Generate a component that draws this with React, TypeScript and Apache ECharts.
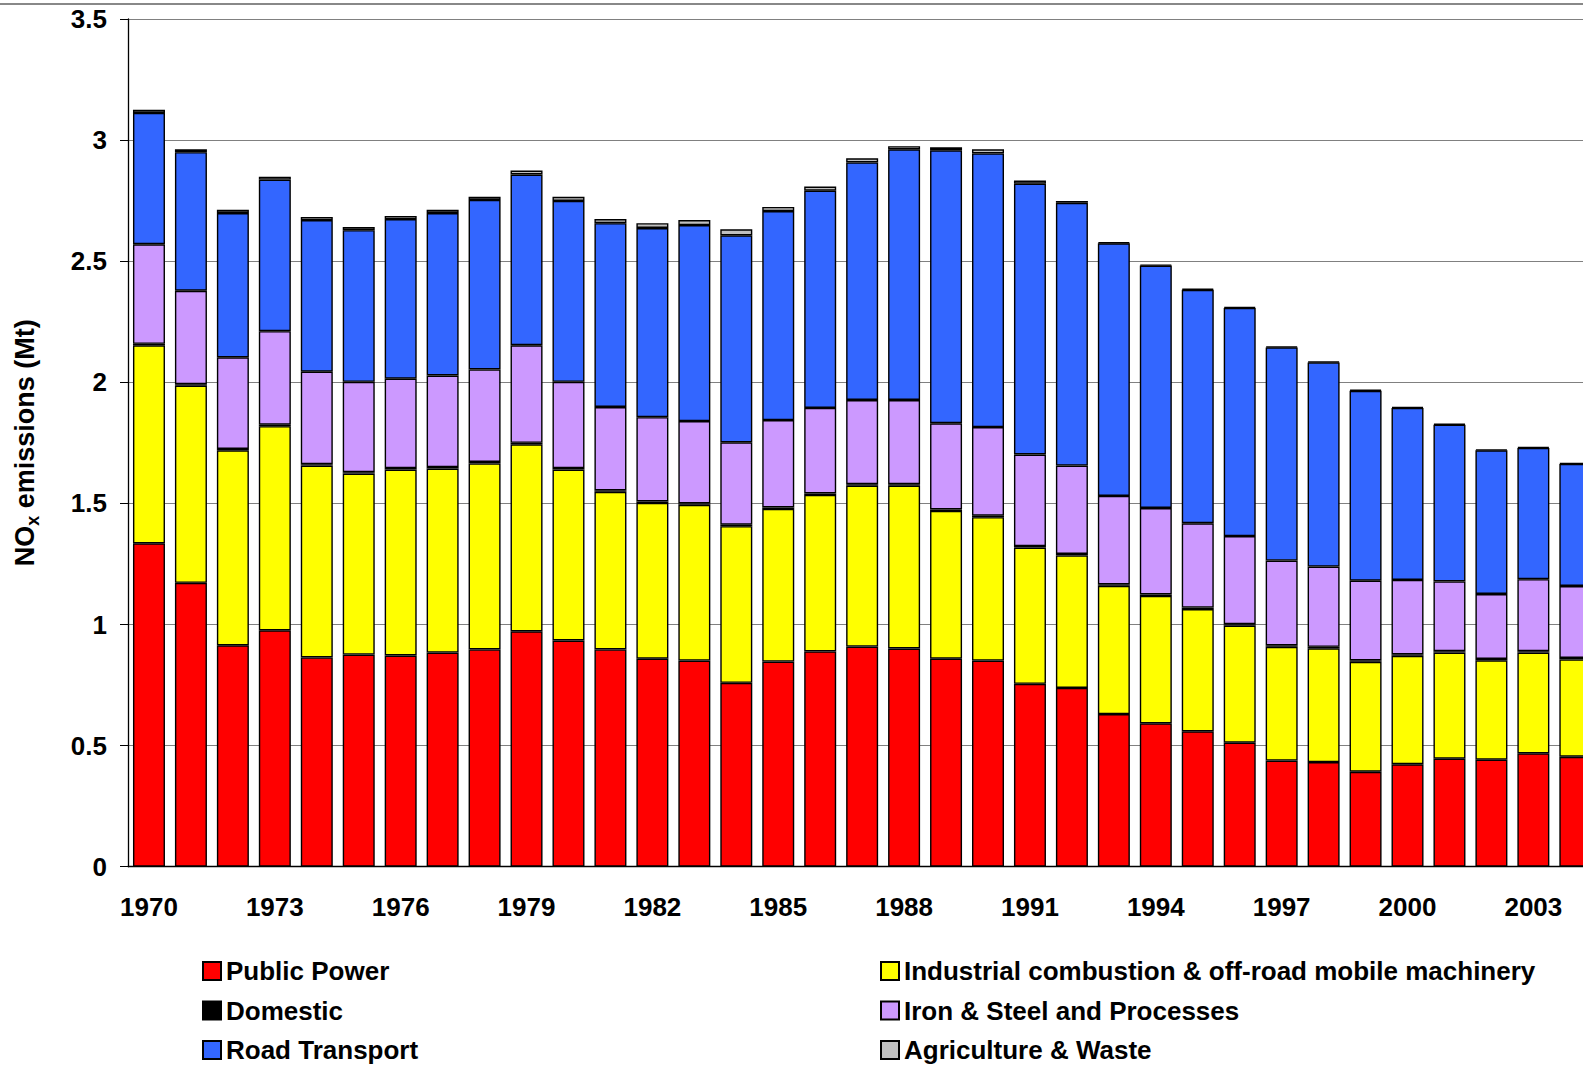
import React, { useEffect, useRef } from "react";
import * as echarts from "echarts";

const years = Array.from({ length: 35 }, (_, i) => String(1970 + i));

const publicPower = [1.335, 1.172, 0.914, 0.976, 0.864, 0.876, 0.872, 0.884, 0.897, 0.972, 0.934, 0.897, 0.859, 0.851, 0.759, 0.847, 0.889, 0.909, 0.901, 0.859, 0.851, 0.755, 0.738, 0.63, 0.592, 0.559, 0.512, 0.438, 0.432, 0.392, 0.423, 0.446, 0.442, 0.468, 0.454];
const industrial = [0.818, 0.814, 0.805, 0.843, 0.792, 0.747, 0.768, 0.76, 0.768, 0.772, 0.706, 0.651, 0.643, 0.643, 0.647, 0.63, 0.646, 0.664, 0.672, 0.61, 0.592, 0.563, 0.547, 0.53, 0.526, 0.505, 0.483, 0.47, 0.47, 0.454, 0.448, 0.438, 0.41, 0.416, 0.402];
const domestic = [0.006, 0.006, 0.006, 0.006, 0.006, 0.006, 0.006, 0.006, 0.006, 0.006, 0.006, 0.006, 0.006, 0.006, 0.006, 0.006, 0.006, 0.006, 0.006, 0.006, 0.006, 0.006, 0.006, 0.006, 0.006, 0.006, 0.006, 0.006, 0.006, 0.006, 0.006, 0.006, 0.006, 0.006, 0.006];
const ironSteel = [0.411, 0.386, 0.378, 0.386, 0.382, 0.373, 0.369, 0.378, 0.382, 0.403, 0.356, 0.344, 0.348, 0.34, 0.34, 0.361, 0.353, 0.348, 0.348, 0.356, 0.366, 0.378, 0.365, 0.365, 0.357, 0.348, 0.364, 0.35, 0.331, 0.329, 0.307, 0.288, 0.268, 0.297, 0.297];
const roadTransport = [0.542, 0.572, 0.596, 0.626, 0.626, 0.626, 0.659, 0.671, 0.7, 0.705, 0.747, 0.759, 0.781, 0.809, 0.855, 0.863, 0.897, 0.981, 1.035, 1.127, 1.13, 1.118, 1.085, 1.043, 1.001, 0.964, 0.942, 0.88, 0.843, 0.784, 0.71, 0.647, 0.593, 0.542, 0.504];
const agriculture = [0.013, 0.012, 0.013, 0.012, 0.013, 0.013, 0.013, 0.013, 0.013, 0.016, 0.017, 0.017, 0.02, 0.021, 0.025, 0.017, 0.017, 0.017, 0.013, 0.012, 0.017, 0.013, 0.008, 0.004, 0.004, 0.004, 0.004, 0.004, 0.004, 0.004, 0.004, 0.004, 0.004, 0.004, 0.004];

const seriesNames = [
  "Public Power",
  "Industrial combustion & off-road mobile machinery",
  "Domestic",
  "Iron & Steel and Processes",
  "Road Transport",
  "Agriculture & Waste",
];
const seriesColors = ["#FF0000", "#FFFF00", "#000000", "#CC99FF", "#3366FF", "#C0C0C0"];
const seriesData = [publicPower, industrial, domestic, ironSteel, roadTransport, agriculture];

const FONT = "'Liberation Sans', Arial, Helvetica, sans-serif";

export default function App() {
  const ref = useRef<HTMLDivElement>(null);
  useEffect(() => {
    if (!ref.current) return;
    const chart = echarts.init(ref.current, null, { renderer: "svg" });
    const legendText = { fontSize: 26, fontWeight: "bold", color: "#000", fontFamily: FONT, lineHeight: 26 };
    const legendBase = {
      orient: "vertical",
      top: 958,
      padding: 0,
      itemWidth: 18,
      itemHeight: 18,
      itemGap: 13.5,
      icon: "rect",
      textStyle: legendText,
    };
    chart.setOption({
      animation: false,
      backgroundColor: "#ffffff",
      textStyle: { fontFamily: FONT },
      graphic: [
        {
          type: "line",
          shape: { x1: 0, y1: 4, x2: 1700, y2: 4 },
          style: { stroke: "#888888", lineWidth: 2 },
        },
      ],
      legend: [
        { ...legendBase, left: 202, data: [seriesNames[0], seriesNames[2], seriesNames[4]] },
        { ...legendBase, left: 880, data: [seriesNames[1], seriesNames[3], seriesNames[5]] },
      ],
      grid: { left: 128, top: 19, width: 1468.3, height: 847.7, containLabel: false },
      xAxis: {
        type: "category",
        data: years,
        axisLine: { lineStyle: { color: "#000", width: 1.3 } },
        axisTick: { interval: 0, length: 9, lineStyle: { color: "#333", width: 1 } },
        axisLabel: {
          interval: 2,
          margin: 27,
          fontSize: 26,
          fontWeight: "bold",
          color: "#000",
          fontFamily: FONT,
        },
      },
      yAxis: {
        type: "value",
        min: 0,
        max: 3.5,
        interval: 0.5,
        name: "{a|NO}{b|x}{a| emissions (Mt)}",
        nameLocation: "middle",
        nameRotate: 90,
        nameGap: 86,
        nameTextStyle: {
          rich: {
            a: { fontSize: 27, fontWeight: "bold", color: "#000", fontFamily: FONT, lineHeight: 34, verticalAlign: "middle" },
            b: { fontSize: 18, fontWeight: "bold", color: "#000", fontFamily: FONT, lineHeight: 34, verticalAlign: "bottom" },
          },
        },
        axisLine: { show: true, lineStyle: { color: "#000", width: 1.3 } },
        axisTick: { show: true, length: 8, lineStyle: { color: "#000", width: 1 } },
        axisLabel: {
          margin: 21,
          fontSize: 26,
          fontWeight: "bold",
          color: "#000",
          fontFamily: FONT,
        },
        splitLine: { show: true, lineStyle: { color: "#808080", width: 1.2 } },
      },
      series: seriesNames.map((name, i) => ({
        name,
        type: "bar",
        stack: "total",
        barWidth: 32,
        data: seriesData[i],
        itemStyle: { color: seriesColors[i], borderColor: "#000", borderWidth: 1.4 },
        emphasis: { disabled: true },
      })),
    });
    return () => chart.dispose();
  }, []);
  return (
    <div style={{ position: "fixed", left: 0, top: 0, width: 1583, height: 1066, overflow: "hidden", background: "#fff" }}>
      <div ref={ref} style={{ width: 1640, height: 1066 }} />
    </div>
  );
}
